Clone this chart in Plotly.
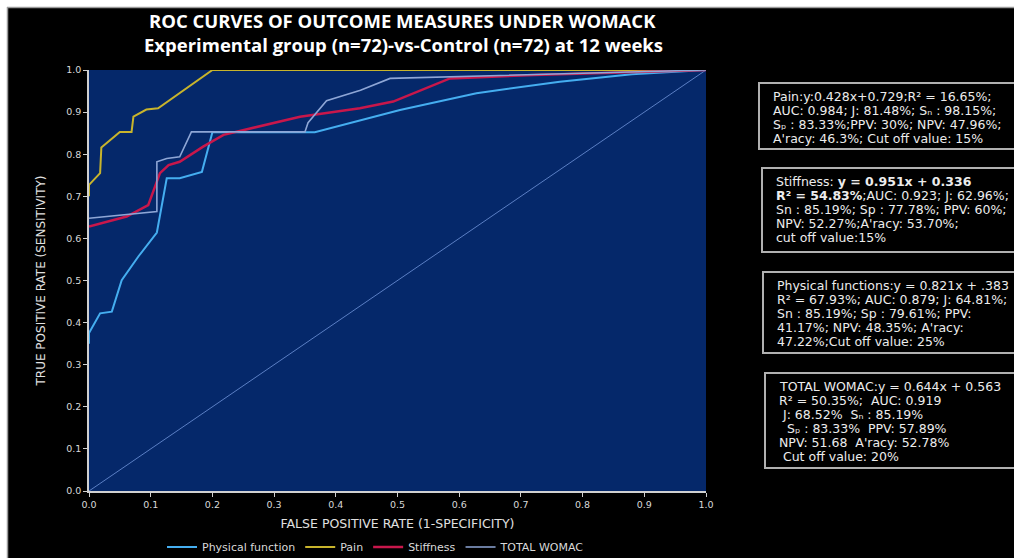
import plotly.graph_objects as go

# ROC curve points (false positive rate vs true positive rate)
phys_fpr = [0.0, 0.0, 0.018, 0.037, 0.053, 0.08, 0.11, 0.126, 0.147, 0.183, 0.2, 0.366, 0.504, 0.628, 0.763, 0.88, 1.0]
phys_tpr = [0.35, 0.375, 0.422, 0.426, 0.501, 0.557, 0.614, 0.743, 0.743, 0.758, 0.852, 0.852, 0.905, 0.945, 0.972, 0.99, 1.0]

pain_fpr = [0.0, 0.0, 0.018, 0.02, 0.05, 0.069, 0.072, 0.093, 0.112, 0.2, 1.0]
pain_tpr = [0.70, 0.727, 0.755, 0.816, 0.853, 0.853, 0.889, 0.906, 0.909, 1.0, 1.0]

stiff_fpr = [0.0, 0.061, 0.096, 0.115, 0.129, 0.147, 0.185, 0.218, 0.342, 0.439, 0.493, 0.585, 0.72, 1.0]
stiff_tpr = [0.628, 0.652, 0.679, 0.755, 0.774, 0.782, 0.818, 0.846, 0.889, 0.909, 0.925, 0.98, 0.988, 1.0]

womac_fpr = [0.0, 0.11, 0.11, 0.126, 0.147, 0.166, 0.35, 0.355, 0.385, 0.44, 0.488, 1.0]
womac_tpr = [0.648, 0.664, 0.782, 0.79, 0.794, 0.853, 0.853, 0.875, 0.927, 0.952, 0.98, 1.0]

diag = [0.0, 1.0]

series_names = ["Physical function", "Pain", "Stiffness", "TOTAL WOMAC"]
series_colors = ["#45aef0", "#c8b42c", "#c8174b", "#8ea6d6"]
series_widths = [2, 2, 2.5, 1.6]

tick_vals = [0.0, 0.1, 0.2, 0.3, 0.4, 0.5, 0.6, 0.7, 0.8, 0.9, 1.0]

NB = "\u00a0"
box_lines = [
    ["Pain:y:0.428x+0.729;R² = 16.65%;",
     "AUC: 0.984; J: 81.48%; Sₙ : 98.15%;",
     "Sₚ : 83.33%;PPV: 30%; NPV: 47.96%;",
     "A'racy: 46.3%; Cut off value: 15%"],
    ["Stiffness: <b>y = 0.951x + 0.336</b>",
     "<b>R² = 54.83%</b>;AUC: 0.923; J: 62.96%;",
     "Sn : 85.19%; Sp : 77.78%; PPV: 60%;",
     "NPV: 52.27%;A'racy: 53.70%;",
     "cut off value:15%"],
    ["Physical functions:y = 0.821x + .383",
     "R² = 67.93%; AUC: 0.879; J: 64.81%;",
     "Sn : 85.19%; Sp : 79.61%; PPV:",
     "41.17%; NPV: 48.35%; A'racy:",
     "47.22%;Cut off value: 25%"],
    ["TOTAL WOMAC:y = 0.644x + 0.563",
     "R² = 50.35%;" + NB * 2 + "AUC: 0.919",
     NB + "J: 68.52%" + NB * 2 + "Sₙ : 85.19%",
     NB * 2 + "Sₚ : 83.33%" + NB * 2 + "PPV: 57.89%",
     "NPV: 51.68" + NB * 2 + "A'racy: 52.78%",
     NB + "Cut off value: 20%"],
]
# box pixel extents (left, top, bottom)
box_px = [(759, 83, 149), (762, 168, 252), (763, 272, 353), (765, 373, 468)]

W, H = 1014, 558
L, R, T, B = 89, 706, 70, 491


def px_x(px):
    return (px - L) / (R - L)


def px_y(py):
    return (B - py) / (B - T)


fig = go.Figure()

fig.add_trace(go.Scatter(x=diag, y=diag, mode="lines", showlegend=False,
                         line=dict(color="#5b7fc4", width=1), hoverinfo="skip"))

for name, xs, ys, c, w in zip(series_names,
                              [phys_fpr, pain_fpr, stiff_fpr, womac_fpr],
                              [phys_tpr, pain_tpr, stiff_tpr, womac_tpr],
                              series_colors, series_widths):
    fig.add_trace(go.Scatter(x=xs, y=ys, mode="lines", name=name,
                             line=dict(color=c, width=w)))

shapes = [
    # white frame strips along top and left edge
    dict(type="rect", xref="paper", yref="paper", x0=px_x(-5), x1=px_x(W + 5),
         y0=px_y(7), y1=px_y(-5), fillcolor="white", line=dict(width=0), layer="above"),
    dict(type="rect", xref="paper", yref="paper", x0=px_x(-5), x1=px_x(7),
         y0=px_y(H + 5), y1=px_y(-5), fillcolor="white", line=dict(width=0), layer="above"),
    dict(type="line", xref="paper", yref="paper", x0=px_x(7), x1=px_x(W + 5),
         y0=px_y(7.5), y1=px_y(7.5), line=dict(color="#9a9a9a", width=1.5), layer="above"),
    dict(type="line", xref="paper", yref="paper", x0=px_x(7.5), x1=px_x(7.5),
         y0=px_y(H + 5), y1=px_y(7), line=dict(color="#9a9a9a", width=1.5), layer="above"),
]

annotations = [
    dict(text="<b>ROC CURVES OF OUTCOME MEASURES UNDER WOMACK</b>", xref="paper", yref="paper",
         x=px_x(402), y=px_y(20), xanchor="center", yanchor="middle", showarrow=False,
         font=dict(family="Open Sans", size=18.5, color="white")),
    dict(text="<b>Experimental group (n=72)-vs-Control (n=72) at 12 weeks</b>", xref="paper", yref="paper",
         x=px_x(403), y=px_y(44.5), xanchor="center", yanchor="middle", showarrow=False,
         font=dict(family="Open Sans", size=18.5, color="white")),
]

for lines, (bx, by0, by1) in zip(box_lines, box_px):
    shapes.append(dict(type="rect", xref="paper", yref="paper",
                       x0=px_x(bx), x1=px_x(W + 20), y0=px_y(by1), y1=px_y(by0),
                       fillcolor="black", line=dict(color="#b0b0b0", width=2)))
    for i, line in enumerate(lines):
        annotations.append(dict(text=line, xref="paper", yref="paper",
                                x=px_x(bx + 12), y=px_y(by0 + 13.7 + 14 * i),
                                xanchor="left", yanchor="middle",
                                align="left", showarrow=False,
                                font=dict(family="DejaVu Sans", size=12.5, color="#ececec")))

axis_common = dict(range=[0, 1], tickvals=tick_vals, tickformat=".1f", showgrid=False,
                   zeroline=False, showline=True, linecolor="#d0d0d0", linewidth=1.5,
                   ticks="outside", ticklen=4, tickcolor="#d0d0d0",
                   tickfont=dict(family="DejaVu Sans", size=9.5, color="#d9d9d9"))

fig.update_layout(
    width=W, height=H,
    margin=dict(l=L, r=W - R, t=T, b=H - B, autoexpand=False),
    paper_bgcolor="black",
    plot_bgcolor="#05286a",
    xaxis=dict(**axis_common,
               title=dict(text="FALSE POSITIVE RATE (1-SPECIFICITY)", standoff=10,
                          font=dict(family="DejaVu Sans", size=12.5, color="#e0e0e0"))),
    yaxis=dict(**axis_common,
               title=dict(text="TRUE POSITIVE RATE (SENSITIVITY)", standoff=18,
                          font=dict(family="DejaVu Sans", size=12, color="#e0e0e0"))),
    legend=dict(orientation="h", x=px_x(376), y=px_y(547), xanchor="center", yanchor="middle",
                bgcolor="rgba(0,0,0,0)", font=dict(family="DejaVu Sans", size=11, color="#d9d9d9"),
                itemwidth=30),
    shapes=shapes,
    annotations=annotations,
)

fig.write_html("out.html")
